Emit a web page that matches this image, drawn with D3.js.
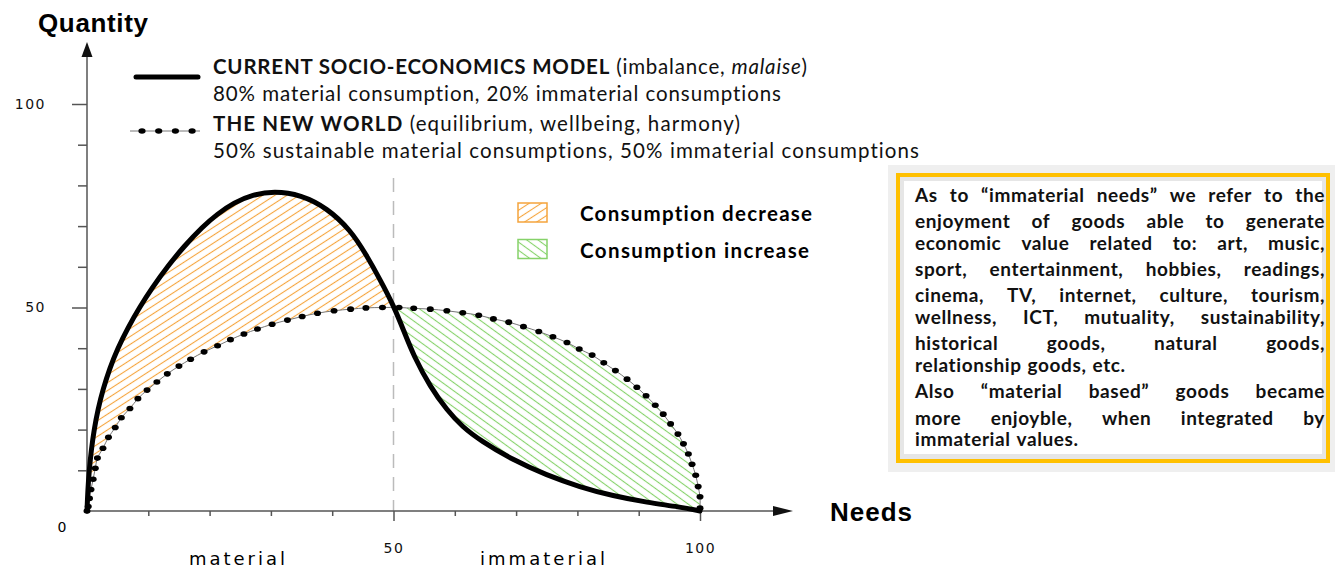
<!DOCTYPE html>
<html>
<head>
<meta charset="utf-8">
<script src="https://cdn.jsdelivr.net/npm/d3@7"></script>
<style>
body { margin: 0; background: #fff; }
text { font-variant-ligatures: none; }
</style>
</head>
<body>
<div class="chart"></div>
<script>
// values, [needs, quantity]
var currentModel = [[0,0],[0.13,5],[0.36,10],[0.70,15],[1.16,20],[1.79,25],[2.63,30],[3.69,35],[5.01,40],[6.67,45],[8.55,50],[10.7,55],[13.1,60],[15.8,65],[18.9,69.9],[21.2,72.9],[24.0,75.8],[27.0,77.7],[30.5,78.6],[34.9,77.7],[39.2,74.4],[43.0,69.0],[45.5,63.1],[47.9,56.6],[50.0,50.5],[51.7,44.2],[53.3,38.1],[56.0,30.5],[58.7,24.8],[61.3,20.6],[64.1,17.4],[69.5,12.5],[75.0,8.8],[80.4,5.9],[85.8,3.7],[91.4,2.1],[96.7,1.0],[100,0]];

// one entry per dot of the dotted curve
var newWorld = [[0,0],[0.2,1.1],[0.4,3.1],[0.65,5.3],[1.0,7.8],[1.35,10.5],[1.7,13.0],[2.6,15.4],[3.5,18.1],[4.6,20.5],[5.6,22.9],[7.0,25.2],[8.3,27.6],[9.8,29.7],[11.4,31.7],[13.1,33.7],[15.0,35.6],[16.9,37.3],[19.1,39.1],[21.3,40.6],[23.4,42.1],[25.6,43.5],[27.8,44.7],[30.2,45.9],[32.7,46.9],[35.1,47.8],[37.6,48.6],[40.3,49.2],[43.0,49.6],[45.5,49.9],[48.2,50.0],[50.9,50.0],[53.3,49.8],[56.0,49.6],[58.7,49.2],[61.3,48.7],[63.9,48.1],[66.3,47.2],[68.8,46.4],[71.2,45.3],[73.7,44.1],[76.0,42.8],[78.3,41.4],[80.3,39.8],[82.4,38.3],[84.3,36.4],[86.2,34.5],[88.1,32.4],[89.7,30.4],[91.2,28.3],[92.7,26.0],[94.0,23.8],[95.2,21.4],[96.4,18.9],[97.3,16.5],[98.1,14.0],[98.7,11.5],[99.3,8.8],[99.7,6.0],[100,3.5],[100,0.7]];

var minorTicks = [10,20,30,40,60,70,80,90];
var majorTicks = [50,100];
var splitAt = 50;

var legendNames = ["CURRENT SOCIO-ECONOMICS MODEL", "THE NEW WORLD"];
var legendShares = ["80% material consumption,  20% immaterial consumptions",
                    "50% sustainable material consumptions,  50% immaterial consumptions"];
var areaNames = ["Consumption decrease", "Consumption increase"];
var sectionNames = ["material", "immaterial"];

var noteLines = [
  "As to \u201Cimmaterial needs\u201D we refer to the",
  "enjoyment of goods able to generate",
  "economic value related to: art, music,",
  "sport, entertainment, hobbies, readings,",
  "cinema, TV, internet, culture, tourism,",
  "wellness, ICT, mutuality, sustainability,",
  "historical goods, natural goods,",
  "relationship goods, etc.",
  "Also \u201Cmaterial based\u201D goods became",
  "more enjoyble, when integrated by",
  "immaterial values."
];
var noteParagraphEnds = [7, 10];

WIDTH = 1335
HEIGHT = 569
AXIS_COLOR = "#555"
ORANGE = "#F5A43C"
GREEN = "#86D26A"
LEGEND_FONT = "Lato, 'Open Sans', sans-serif"
TICK_FONT = "'DejaVu Sans', Verdana, sans-serif"

var x = d3.scaleLinear().domain([0, 100]).range([87, 700]);
var y = d3.scaleLinear().domain([0, 100]).range([511, 104]);

var svg = d3.select(".chart").append("svg")
	.attr("width", WIDTH)
	.attr("height", HEIGHT)
	.style("display", "block");

// hatch patterns
var defs = svg.append("defs");
function hatch(id, color, angle) {
	var p = defs.append("pattern")
		.attr("id", id)
		.attr("patternUnits", "userSpaceOnUse")
		.attr("width", 20)
		.attr("height", 6.6)
		.attr("patternTransform", "rotate(" + angle + ")");
	p.append("line")
		.attr("x1", 0).attr("x2", 20)
		.attr("y1", 3.3).attr("y2", 3.3)
		.style("stroke", color)
		.style("stroke-width", 1.1);
}
hatch("hatch-orange", ORANGE, -33);
hatch("hatch-green", GREEN, 36);

// solid curve is smoothed, dotted one goes through each dot
var solidLine = d3.line()
	.x(function(d) { return x(d[0]); })
	.y(function(d) { return y(d[1]); })
	.curve(d3.curveBasis);

var dotLine = d3.line()
	.x(function(d) { return x(d[0]); })
	.y(function(d) { return y(d[1]); })
	.curve(d3.curveCatmullRom.alpha(0.5));

function between(a, b) {
	return solidLine(a) + dotLine(b.slice().reverse()).replace(/^M/, "L") + "Z";
}

var solidLeft = currentModel.filter(function(d) { return d[0] <= splitAt; });
var solidRight = currentModel.filter(function(d) { return d[0] >= splitAt; });
var dotsLeft = newWorld.filter(function(d) { return d[0] <= splitAt; });
var dotsRight = newWorld.filter(function(d) { return d[0] >= splitAt; });

svg.append("path")
	.attr("d", between(solidLeft, dotsLeft))
	.style("fill", "url(#hatch-orange)");

svg.append("path")
	.attr("d", between(solidRight, dotsRight))
	.style("fill", "url(#hatch-green)");

// dashed split line
svg.append("line")
	.attr("x1", x(splitAt)).attr("x2", x(splitAt))
	.attr("y1", 178).attr("y2", y(0))
	.style("stroke", "#bbb")
	.style("stroke-width", 1.5)
	.style("stroke-dasharray", "14 9");

// axes
function styleAxis(g) {
	g.select(".domain").remove();
	g.selectAll("line").style("stroke", AXIS_COLOR).style("stroke-width", 1.5);
	g.selectAll("text")
		.style("font-family", TICK_FONT)
		.style("font-size", "14px")
		.style("letter-spacing", "1.5px")
		.style("fill", "#111");
}

svg.append("g")
	.attr("transform", "translate(0," + y(0) + ")")
	.call(d3.axisBottom(x).tickValues(minorTicks).tickSize(5).tickFormat(""))
	.call(styleAxis);

svg.append("g")
	.attr("transform", "translate(0," + y(0) + ")")
	.call(d3.axisBottom(x).tickValues(majorTicks).tickSize(10).tickPadding(22))
	.call(styleAxis);

svg.append("g")
	.attr("transform", "translate(" + x(0) + ",0)")
	.call(d3.axisLeft(y).tickValues(minorTicks).tickSize(9).tickFormat(""))
	.call(styleAxis);

svg.append("g")
	.attr("transform", "translate(" + x(0) + ",0)")
	.call(d3.axisLeft(y).tickValues(majorTicks).tickSize(15).tickPadding(26))
	.call(styleAxis);

svg.append("text")
	.attr("x", 62).attr("y", 532)
	.attr("text-anchor", "middle")
	.style("font-family", TICK_FONT).style("font-size", "14px")
	.text("0");

// axis lines with arrows
svg.append("line")
	.attr("x1", x(0)).attr("y1", y(0) + 1)
	.attr("x2", x(0)).attr("y2", 56)
	.style("stroke", AXIS_COLOR).style("stroke-width", 1.5);
svg.append("path")
	.attr("d", "M" + (x(0) - 5.5) + ",57L" + (x(0) + 5.5) + ",57L" + x(0) + ",42Z")
	.style("fill", "#111");

svg.append("line")
	.attr("x1", x(0) - 2).attr("y1", y(0))
	.attr("x2", 774).attr("y2", y(0))
	.style("stroke", AXIS_COLOR).style("stroke-width", 1.5);
svg.append("path")
	.attr("d", "M773," + (y(0) - 5) + "L773," + (y(0) + 5) + "L793," + y(0) + "Z")
	.style("fill", "#111");

svg.append("text")
	.attr("x", 38).attr("y", 32)
	.attr("textLength", 110)
	.style("font-family", "'Liberation Sans', Arial, sans-serif")
	.style("font-weight", "bold").style("font-size", "26px")
	.text("Quantity");

svg.append("text")
	.attr("x", 830).attr("y", 521)
	.attr("textLength", 82)
	.style("font-family", "'Liberation Sans', Arial, sans-serif")
	.style("font-weight", "bold").style("font-size", "26px")
	.text("Needs");

svg.selectAll(".section")
	.data(sectionNames)
	.enter().append("text")
	.attr("class", "section")
	.attr("x", function(d, i) { return i == 0 ? 189 : 480; })
	.attr("y", 565)
	.attr("textLength", function(d, i) { return i == 0 ? 96 : 125; })
	.attr("lengthAdjust", "spacing")
	.style("font-family", TICK_FONT).style("font-size", "18px")
	.text(function(d) { return d; });

// dotted curve: thin line plus dots
svg.append("path")
	.attr("d", dotLine(newWorld))
	.style("fill", "none")
	.style("stroke", "#777")
	.style("stroke-width", 1);

svg.selectAll(".dot")
	.data(newWorld)
	.enter().append("ellipse")
	.attr("class", "dot")
	.attr("cx", function(d) { return x(d[0]); })
	.attr("cy", function(d) { return y(d[1]); })
	.attr("rx", 3.5)
	.attr("ry", 2.8)
	.style("fill", "#000");

// solid curve
svg.append("path")
	.attr("d", solidLine(currentModel))
	.style("fill", "none")
	.style("stroke", "#000")
	.style("stroke-width", 5)
	.style("stroke-linecap", "round")
	.style("stroke-linejoin", "round");

// legend
svg.append("line")
	.attr("x1", 136).attr("x2", 198)
	.attr("y1", 77).attr("y2", 77)
	.style("stroke", "#000").style("stroke-width", 5)
	.style("stroke-linecap", "round");

svg.append("line")
	.attr("x1", 130).attr("x2", 200)
	.attr("y1", 131).attr("y2", 131)
	.style("stroke", "#777").style("stroke-width", 1);

svg.selectAll(".legdot")
	.data([0, 1, 2, 3])
	.enter().append("ellipse")
	.attr("class", "legdot")
	.attr("cx", function(d) { return 142 + d * 16.7; })
	.attr("cy", 131)
	.attr("rx", 3.6).attr("ry", 2.8)
	.style("fill", "#000");

function legendText(yy, len) {
	return svg.append("text")
		.attr("x", 213).attr("y", yy)
		.attr("textLength", len)
		.attr("lengthAdjust", "spacing")
		.style("font-family", LEGEND_FONT)
		.style("font-size", "20.5px")
		.style("fill", "#111");
}

var l1 = legendText(74, 594);
l1.append("tspan").style("font-weight", "bold").text(legendNames[0]);
l1.append("tspan").text(" (imbalance, ");
l1.append("tspan").style("font-style", "italic").text("malaise");
l1.append("tspan").text(")");

legendText(101, 568).text(legendShares[0]);

var l3 = legendText(131, 527);
l3.append("tspan").style("font-weight", "bold").text(legendNames[1]);
l3.append("tspan").text(" (equilibrium, wellbeing, harmony)");

legendText(158, 706).text(legendShares[1]);

// hatch legend
svg.selectAll(".areakey")
	.data(areaNames)
	.enter().append("rect")
	.attr("class", "areakey")
	.attr("x", 518)
	.attr("y", function(d, i) { return 203 + i * 36.5; })
	.attr("width", 29).attr("height", 19)
	.style("fill", function(d, i) { return i == 0 ? "url(#hatch-orange)" : "url(#hatch-green)"; })
	.style("stroke", function(d, i) { return i == 0 ? ORANGE : GREEN; })
	.style("stroke-width", 1.5);

svg.selectAll(".areaname")
	.data(areaNames)
	.enter().append("text")
	.attr("class", "areaname")
	.attr("x", 580)
	.attr("y", function(d, i) { return 221 + i * 37; })
	.attr("textLength", function(d, i) { return i == 0 ? 232 : 229; })
	.attr("lengthAdjust", "spacing")
	.style("font-family", LEGEND_FONT)
	.style("font-weight", "bold")
	.style("font-size", "20.5px")
	.text(function(d) { return d; });

// note box
svg.append("rect")
	.attr("x", 888).attr("y", 165)
	.attr("width", 447).attr("height", 307)
	.style("fill", "#efefef");

svg.append("rect")
	.attr("x", 898).attr("y", 175)
	.attr("width", 430).attr("height", 286)
	.style("fill", "#e6e6e6")
	.style("stroke", "#FFC000")
	.style("stroke-width", 4);

svg.append("rect")
	.attr("x", 904).attr("y", 181)
	.attr("width", 418).attr("height", 273)
	.style("fill", "#fff");

NOTE_LEFT = 915
NOTE_RIGHT = 1325
var noteBaselines = [202, 228, 250, 276, 302, 324, 350, 372, 398, 425, 446];

noteLines.forEach(function(txt, i) {
	var words = txt.split(" ");
	var g = svg.append("g");
	var nodes = words.map(function(w) {
		return g.append("text")
			.attr("y", noteBaselines[i])
			.style("font-family", LEGEND_FONT)
			.style("font-weight", "bold")
			.style("font-size", "19px")
			.style("letter-spacing", "0.6px")
			.style("fill", "#111")
			.text(w);
	});
	var widths = nodes.map(function(n) { return n.node().getComputedTextLength(); });
	var total = d3.sum(widths);
	var gap = noteParagraphEnds.indexOf(i) >= 0 ? 6 : (NOTE_RIGHT - NOTE_LEFT - total) / (words.length - 1);
	var pos = NOTE_LEFT;
	nodes.forEach(function(n, j) {
		n.attr("x", pos);
		pos += widths[j] + gap;
	});
});
</script>
</body>
</html>
